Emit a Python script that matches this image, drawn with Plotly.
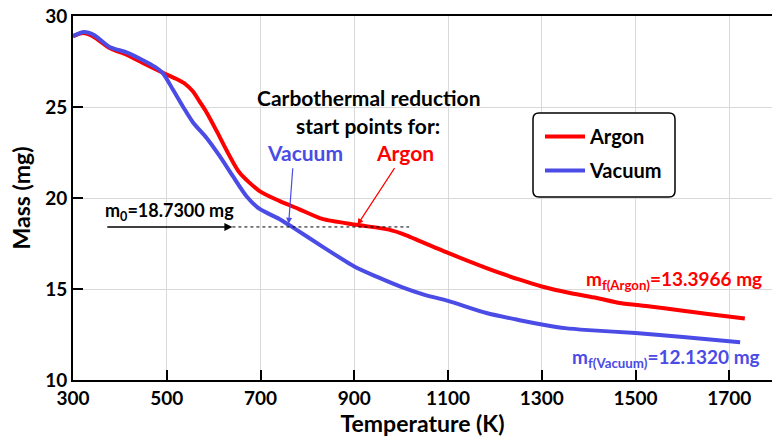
import plotly.graph_objects as go

# ---- data ----
argon_T = [300, 321, 343, 378, 414, 449, 485, 500, 522, 540, 556, 570, 585, 606, 627, 655,
           698, 740, 783, 832, 904, 974, 1011, 1041, 1100, 1182, 1253, 1300, 1360, 1417,
           1467, 1531, 1601, 1650, 1733]
argon_m = [28.88, 29.07, 28.88, 28.24, 27.87, 27.42, 26.96, 26.78, 26.52, 26.25, 25.85, 25.3,
           24.7, 23.7, 22.65, 21.4, 20.38, 19.84, 19.38, 18.85, 18.53, 18.26, 17.95, 17.62,
           16.98, 16.15, 15.51, 15.14, 14.78, 14.51, 14.23, 14.04, 13.8, 13.64, 13.38]
vacuum_T = [300, 323, 345, 378, 414, 449, 475, 492, 513, 535, 556, 585, 613, 641, 670, 698,
            740, 768, 832, 900, 950, 1000, 1050, 1100, 1182, 1250, 1303, 1350, 1400, 1500,
            1601, 1723]
vacuum_m = [28.9, 29.12, 28.95, 28.3, 28.0, 27.57, 27.2, 26.85, 25.96, 25.0, 24.15, 23.3,
            22.3, 21.2, 20.1, 19.4, 18.85, 18.4, 17.33, 16.24, 15.65, 15.12, 14.68, 14.35,
            13.68, 13.3, 13.04, 12.85, 12.74, 12.58, 12.36, 12.07]
x_ticks = [300, 500, 700, 900, 1100, 1300, 1500, 1700]
y_ticks = [10, 15, 20, 25, 30]

RED = "#ff0000"
BLUE = "#4b4be6"
FONT = "Lato"

fig = go.Figure()
fig.add_trace(go.Scatter(x=argon_T, y=argon_m, mode="lines", name="Argon", legendgroup="a",
                         line=dict(color=RED, width=4, shape="spline", smoothing=0.7)))
fig.add_trace(go.Scatter(x=vacuum_T, y=vacuum_m, mode="lines", name="Vacuum", legendgroup="b",
                         line=dict(color=BLUE, width=4, shape="spline", smoothing=0.7)))

# m0 dotted line and arrow
m0_level = 18.41
fig.add_shape(type="line", x0=640, x1=1017, y0=m0_level, y1=m0_level, xref="x", yref="y",
              line=dict(color="black", width=1, dash="dot"))
fig.add_annotation(x=640, y=m0_level, ax=370, ay=m0_level, xref="x", yref="y",
                   axref="x", ayref="y", text="", showarrow=True, arrowhead=2,
                   arrowsize=1, arrowwidth=1.6, arrowcolor="black")
fig.add_annotation(x=364, y=19.25, xref="x", yref="y", xanchor="left", yanchor="middle",
                   text="m<sub>0</sub>=18.7300 mg", showarrow=False,
                   font=dict(family=FONT, size=18, color="black", weight="bold"))

# start point arrows
fig.add_annotation(x=760, y=18.59, ax=769, ay=21.72, xref="x", yref="y", axref="x", ayref="y",
                   text="", showarrow=True, arrowhead=2, arrowsize=1, arrowwidth=1.2,
                   arrowcolor=BLUE)
fig.add_annotation(x=907, y=18.53, ax=988, ay=21.72, xref="x", yref="y", axref="x", ayref="y",
                   text="", showarrow=True, arrowhead=2, arrowsize=1, arrowwidth=1.2,
                   arrowcolor=RED)


def px2paper(px, py):
    return (px - 73) / 699.0, (380 - py) / 364.0


def label(px, py, text, color, size, xanchor="center"):
    fig.add_annotation(x=px2paper(px, 0)[0], y=px2paper(0, py)[1], xref="paper",
                       yref="paper", showarrow=False, text=text, xanchor=xanchor,
                       yanchor="middle",
                       font=dict(family=FONT, size=size, color=color, weight="bold"))


label(368, 97, "Carbothermal reduction", "black", 21)
label(368, 125, "start points for:", "black", 21)
label(305, 152, "Vacuum", BLUE, 21)
label(405, 152, "Argon", RED, 21)
label(764, 280, "m<sub>f(Argon)</sub>=13.3966 mg", RED, 19, "right")
label(762, 358, "m<sub>f(Vacuum)</sub>=12.1320 mg", BLUE, 19, "right")

# rounded legend box
x0, y0 = px2paper(533, 197)
x1, y1 = px2paper(675, 113)
rx, ry = 6 / 699.0, 6 / 364.0
path = (f"M {x0+rx},{y0} L {x1-rx},{y0} Q {x1},{y0} {x1},{y0+ry} "
        f"L {x1},{y1-ry} Q {x1},{y1} {x1-rx},{y1} L {x0+rx},{y1} "
        f"Q {x0},{y1} {x0},{y1-ry} L {x0},{y0+ry} Q {x0},{y0} {x0+rx},{y0} Z")
fig.add_shape(type="path", path=path, xref="paper", yref="paper",
              line=dict(color="black", width=1.5), fillcolor="white", layer="above")

fig.update_layout(
    width=772, height=438,
    margin=dict(l=73, r=0, t=16, b=58),
    paper_bgcolor="white", plot_bgcolor="white",
    font=dict(family=FONT, color="black"),
    showlegend=True,
    legend=dict(x=px2paper(540, 0)[0], y=px2paper(0, 117)[1], xanchor="left", yanchor="top",
                bgcolor="rgba(0,0,0,0)", borderwidth=0,
                font=dict(family=FONT, size=20, color="black", weight="bold"),
                tracegroupgap=5, itemwidth=40),
    xaxis=dict(range=[300, 1791], tickvals=x_ticks, ticktext=[str(v) for v in x_ticks],
               showgrid=True, gridcolor="#d9d9d9", gridwidth=1,
               showline=True, linecolor="black", linewidth=2, mirror=True,
               ticks="inside", ticklen=10, tickwidth=2, tickcolor="black",
               tickfont=dict(family=FONT, size=19, color="black", weight="bold"),
               title=dict(text="Temperature (K)", standoff=6,
                          font=dict(family=FONT, size=23, color="black", weight="bold")),
               zeroline=False),
    yaxis=dict(range=[10, 30], tickvals=y_ticks,
               showgrid=True, gridcolor="#d9d9d9", gridwidth=1,
               showline=True, linecolor="black", linewidth=2,
               ticks="inside", ticklen=10, tickwidth=2, tickcolor="black",
               tickfont=dict(family=FONT, size=19, color="black", weight="bold"),
               title=dict(text="Mass (mg)", standoff=8,
                          font=dict(family=FONT, size=23, color="black", weight="bold")),
               zeroline=False),
)

fig.write_html("out.html", config={"displayModeBar": False},
               post_script="document.body.style.margin='0';"
                           "document.body.style.overflow='hidden';")
